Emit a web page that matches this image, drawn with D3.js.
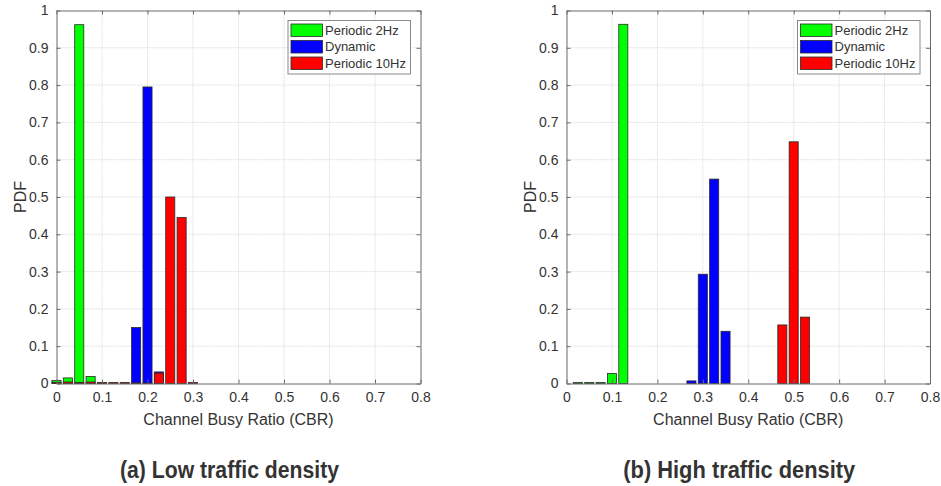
<!DOCTYPE html>
<html>
<head>
<meta charset="utf-8">
<script src="https://cdn.jsdelivr.net/npm/d3@7/dist/d3.min.js"></script>
<style>
  html, body { margin: 0; padding: 0; background: #fff; }
  svg { display: block; }
  text { font-family: "Liberation Sans", Arial, Helvetica, sans-serif; fill: #333; }
</style>
</head>
<body>
<svg id="chart" width="941" height="486"></svg>
<script>
// ---- Data ----
const binCenters = [0, 0.025, 0.05, 0.075, 0.1, 0.125, 0.15, 0.175, 0.2, 0.225, 0.25, 0.275, 0.3, 0.325, 0.35, 0.375,
                    0.4, 0.425, 0.45, 0.475, 0.5, 0.525, 0.55, 0.575, 0.6, 0.625, 0.65, 0.675, 0.7, 0.725, 0.75, 0.775];
const seriesNames = ["Periodic 2Hz", "Dynamic", "Periodic 10Hz"];
const seriesColors = ["#00ff00", "#0000ff", "#ff0000"];

// (a) Low traffic density
const lowPeriodic2Hz  = [0.008, 0.015, 0.962, 0.019, 0.001, 0, 0, 0, 0, 0, 0, 0, 0, 0, 0, 0, 0, 0, 0, 0, 0, 0, 0, 0, 0, 0, 0, 0, 0, 0, 0, 0];
const lowDynamic      = [0, 0, 0, 0, 0, 0, 0, 0.15, 0.795, 0.031, 0, 0, 0, 0, 0, 0, 0, 0, 0, 0, 0, 0, 0, 0, 0, 0, 0, 0, 0, 0, 0, 0];
const lowPeriodic10Hz = [0.003, 0.004, 0.003, 0.004, 0.003, 0.003, 0.003, 0.002, 0.001, 0.028, 0.5, 0.445, 0.003, 0, 0, 0, 0, 0, 0, 0, 0, 0, 0, 0, 0, 0, 0, 0, 0, 0, 0, 0];

// (b) High traffic density
const highPeriodic2Hz  = [0, 0.003, 0.003, 0.003, 0.027, 0.963, 0, 0, 0, 0, 0, 0, 0, 0, 0, 0, 0, 0, 0, 0, 0, 0, 0, 0, 0, 0, 0, 0, 0, 0, 0, 0];
const highDynamic      = [0, 0, 0, 0, 0, 0, 0, 0, 0, 0, 0, 0.007, 0.293, 0.548, 0.14, 0, 0, 0, 0, 0, 0, 0, 0, 0, 0, 0, 0, 0, 0, 0, 0, 0];
const highPeriodic10Hz = [0, 0, 0, 0, 0, 0, 0, 0, 0, 0, 0, 0, 0, 0, 0, 0, 0, 0, 0, 0.157, 0.648, 0.178, 0, 0, 0, 0, 0, 0, 0, 0, 0, 0];

const xTicks = [0, 0.1, 0.2, 0.3, 0.4, 0.5, 0.6, 0.7, 0.8];
const yTicks = [0, 0.1, 0.2, 0.3, 0.4, 0.5, 0.6, 0.7, 0.8, 0.9, 1];
const xLabel = "Channel Busy Ratio (CBR)";
const yLabel = "PDF";
const panelTitles = ["(a) Low traffic density", "(b) High traffic density"];

// ---- Layout ----
const panels = [
  { x0: 56.5, x1: 420.5, series: [lowPeriodic2Hz, lowDynamic, lowPeriodic10Hz], title: panelTitles[0], tLen: 219 },
  { x0: 566.5, x1: 930, series: [highPeriodic2Hz, highDynamic, highPeriodic10Hz], title: panelTitles[1], tLen: 232 }
];
const yTop = 10.5, yBottom = 383.5;
const binWidth = 0.025, barFrac = 0.8;
const axisColor = "#6b6b6b";
const svg = d3.select("#chart");

panels.forEach(p => {
  const x = d3.scaleLinear().domain([0, 0.8]).range([p.x0, p.x1]);
  const y = d3.scaleLinear().domain([0, 1]).range([yBottom, yTop]);
  const g = svg.append("g");

  // grid
  g.append("g").selectAll("line").data(xTicks.slice(1, -1)).join("line")
    .attr("x1", d => x(d)).attr("x2", d => x(d)).attr("y1", yTop).attr("y2", yBottom)
    .attr("stroke", "#e0e0e0").attr("stroke-width", 1).attr("stroke-dasharray", "2,1");
  g.append("g").selectAll("line").data(yTicks.slice(1, -1)).join("line")
    .attr("y1", d => y(d)).attr("y2", d => y(d)).attr("x1", p.x0).attr("x2", p.x1)
    .attr("stroke", "#e0e0e0").attr("stroke-width", 1).attr("stroke-dasharray", "2,1");

  // bars: each series drawn at the same bin positions (overlaid)
  const bw = x(binWidth * barFrac) - x(0);
  p.series.forEach((vals, si) => {
    g.append("g").selectAll("rect").data(vals.map((v, i) => ({ c: binCenters[i], v })))
      .join("rect")
      .attr("x", d => x(d.c) - bw / 2)
      .attr("width", bw)
      .attr("y", d => y(d.v))
      .attr("height", d => y(0) - y(d.v))
      .attr("fill", seriesColors[si])
      .attr("stroke", "#2a2a2a")
      .attr("stroke-width", 0.8);
  });

  // axes (box with inward ticks)
  const tickLen = 4;
  const bottomAxis = d3.axisBottom(x).tickValues(xTicks).tickFormat(d3.format("~g")).tickSizeInner(-tickLen).tickSizeOuter(0).tickPadding(9);
  const leftAxis = d3.axisLeft(y).tickValues(yTicks).tickFormat(d3.format("~g")).tickSizeInner(-tickLen).tickSizeOuter(0).tickPadding(8);
  const topAxis = d3.axisTop(x).tickValues(xTicks).tickFormat("").tickSizeInner(-tickLen).tickSizeOuter(0);
  const rightAxis = d3.axisRight(y).tickValues(yTicks).tickFormat("").tickSizeInner(-tickLen).tickSizeOuter(0);

  const styleAxis = sel => {
    sel.select(".domain").attr("stroke", axisColor);
    sel.selectAll(".tick line").attr("stroke", axisColor);
    sel.selectAll(".tick text").attr("fill", "#333").style("font-size", "14px")
      .style("font-family", "'Liberation Sans', Arial, sans-serif");
  };
  g.append("g").attr("transform", `translate(0,${yBottom})`).call(bottomAxis).call(styleAxis);
  g.append("g").attr("transform", `translate(${p.x0},0)`).call(leftAxis).call(styleAxis);
  g.append("g").attr("transform", `translate(0,${yTop})`).call(topAxis).call(styleAxis);
  g.append("g").attr("transform", `translate(${p.x1},0)`).call(rightAxis).call(styleAxis);

  // axis labels
  g.append("text").attr("x", (p.x0 + p.x1) / 2).attr("y", 425)
    .attr("text-anchor", "middle").style("font-size", "16px").text(xLabel);
  g.append("text").attr("transform", `translate(${p.x0 - 31},${(yTop + yBottom) / 2}) rotate(-90)`)
    .attr("text-anchor", "middle").style("font-size", "16px").text(yLabel);

  // panel title
  g.append("text").attr("x", (p.x0 + p.x1) / 2 - 9).attr("y", 478)
    .attr("text-anchor", "middle")
    .attr("textLength", p.tLen).attr("lengthAdjust", "spacingAndGlyphs")
    .style("font-family", "'Liberation Sans', Arial, sans-serif")
    .style("font-weight", "bold").style("font-size", "23px").attr("fill", "#111")
    .text(p.title);

  // legend
  const lw = 122.5, lh = 53.5;
  const lx = p.x1 - 10 - lw, ly = 20.5;
  const lg = g.append("g").attr("transform", `translate(${lx},${ly})`);
  lg.append("rect").attr("width", lw).attr("height", lh).attr("fill", "#fff")
    .attr("stroke", "#8a8a8a").attr("stroke-width", 1);
  seriesNames.forEach((name, i) => {
    lg.append("rect").attr("x", 3).attr("y", 3.5 + i * 16.5).attr("width", 31.5).attr("height", 12.5)
      .attr("fill", seriesColors[i]).attr("stroke", "#2a2a2a").attr("stroke-width", 0.8);
    lg.append("text").attr("x", 37).attr("y", 9.75 + i * 16.5).attr("dy", "0.35em")
      .style("font-size", "13px").attr("fill", "#222").text(name);
  });
});
</script>
</body>
</html>
